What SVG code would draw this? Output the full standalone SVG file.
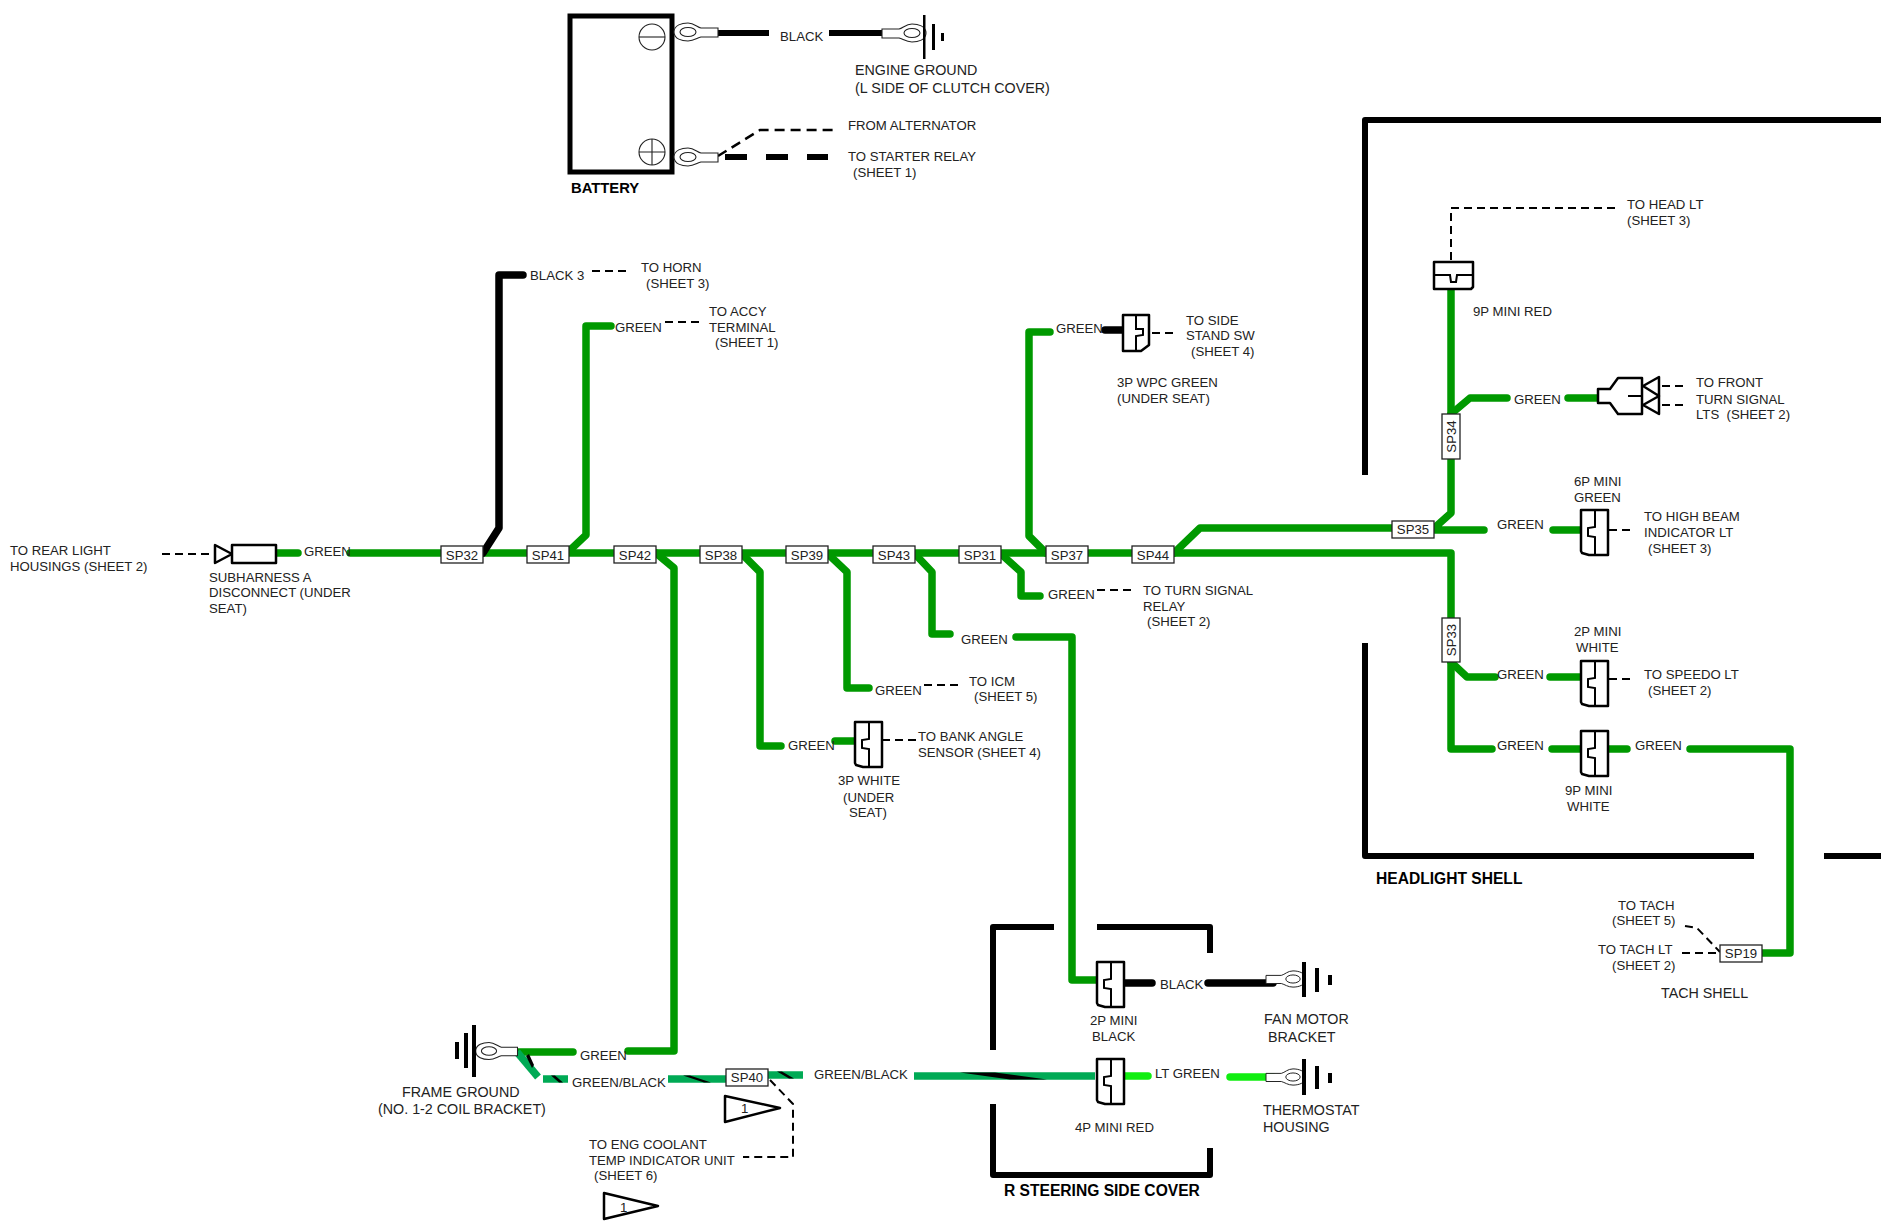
<svg xmlns="http://www.w3.org/2000/svg" xmlns:xlink="http://www.w3.org/1999/xlink" width="1881" height="1225" viewBox="0 0 1881 1225">
<style>
text{font-family:"Liberation Sans",Arial,sans-serif;font-size:13.200px;fill:#222}
.l{font-size:14.300px}
.b{font-size:15.600px;font-weight:bold;fill:#000}
.m{text-anchor:middle}
.w{fill:none;stroke-width:7.500;stroke-linecap:round;stroke-linejoin:round}
.g{stroke:#009900}
.k{stroke:#000}
.lg{stroke:#11ee11}
.gb{stroke:#00aa55;stroke-linecap:butt}
.d{fill:none;stroke:#000;stroke-width:2;stroke-dasharray:8 5}
.f{fill:none;stroke:#000;stroke-width:6;stroke-linejoin:round}
.o{fill:#fff;stroke:#000;stroke-width:2.500;stroke-linejoin:round}
.t{fill:#fff;stroke:#222;stroke-width:1.100}
.s{fill:#fff;stroke:#222;stroke-width:1.300}
.i{fill:none;stroke:#000;stroke-width:2}
</style>
<defs>
<g id="conn">
<path class="o" d="M0,0H27V45H8L1,43L0,41Z"/>
<path class="i" d="M14,0V17L7,18V26L14,27V45"/>
</g>
<g id="lug">
<path class="t" d="M-14,0C-14,-7 -6,-9 0,-9C6,-9 9,-5 13,-4H30V5H13C9,6 6,9 0,9C-6,9 -14,7 -14,0Z"/>
<ellipse class="t" rx="8" ry="4.500"/>
</g>
<rect id="sp" class="s" width="42" height="17"/>
</defs>
<g id="frames">
<path class="f" d="M1365,475V120H1881"/>
<path class="f" d="M1365,643V856H1754"/>
<path class="f" d="M1824,856H1881"/>
<path class="f" d="M993,1050V927H1054"/>
<path class="f" d="M1097,927H1210V953"/>
<path class="f" d="M993,1104V1175H1210V1148"/>
</g>
<g id="connectors">
<path class="w g" d="M273,553H298"/>
<path class="w g" d="M350,553H445"/>
<path class="w g" d="M483,553H527"/>
<path class="w g" d="M569,553H614"/>
<path class="w g" d="M656,553H700"/>
<path class="w g" d="M742,553H786"/>
<path class="w g" d="M828,553H873"/>
<path class="w g" d="M915,553H959"/>
<path class="w g" d="M1001,553H1046"/>
<path class="w g" d="M1088,553H1132"/>
<path class="w g" d="M1174,553H1451V620"/>
<path class="w k" d="M483,553L499,528V275H523"/>
<path class="w g" d="M567,553L586,535V326H611"/>
<path class="w g" d="M656,553L674,568V1051H628"/>
<path class="w g" d="M742,554L760,572V746H781"/>
<path class="w g" d="M828,554L847,572V688H869"/>
<path class="w g" d="M915,554L932,572V634H950"/>
<path class="w g" d="M1016,637H1072V980H1100"/>
<path class="w g" d="M1001,554L1021,572V596H1040"/>
<path class="w g" d="M1046,553L1029,536V332H1050"/>
<path class="w g" d="M1174,553L1200,528H1392"/>
<path class="w g" d="M1451,286V414"/>
<path class="w g" d="M1451,414L1470,398H1507"/>
<path class="w g" d="M1451,459V513L1432,530H1484"/>
<path class="w g" d="M1553,530H1585"/>
<path class="w g" d="M1568,398H1600"/>
<path class="w g" d="M1451,662L1467,677H1495"/>
<path class="w g" d="M1451,662V749H1492"/>
<path class="w g" d="M1550,677H1581"/>
<path class="w g" d="M1552,749H1584"/>
<path class="w g" d="M1607,749H1627"/>
<path class="w g" d="M1690,749H1790V953H1762"/>
<path class="w g" d="M835,741H856"/>
<path class="w k" d="M1105,330H1125"/>
<path class="w k" d="M1123,983H1152"/>
<path class="w k" d="M1208,983H1273"/>
<path class="w lg" d="M1122,1076H1148"/>
<path class="w lg" d="M1230,1077H1273"/>
<path class="w g" d="M517,1052H573"/>
<path class="w gb" d="M517,1052L538,1077"/>
<path class="w gb" d="M543,1079H568"/>
<path class="w gb" d="M668,1079H726"/>
<path class="w gb" d="M768,1075H803"/>
<path class="w gb" d="M914,1076H1095"/>
<path fill="#000" d="M960,1072.500H995L1047,1079.500H1010Z"/>
<path fill="#000" d="M526,1056L529,1054L534,1065L532,1068Z"/>
<path fill="#000" d="M551,1075.500H555L563,1082.500H559Z"/>
<path fill="#000" d="M683,1075.500H690L711,1082.500H704Z"/>
<path fill="#000" d="M777,1071.500H782L794,1078.500H789Z"/>
<path fill="none" stroke="#000" stroke-width="6" d="M717,33H769M829,33H882"/>
<path fill="none" stroke="#000" stroke-width="6" d="M725,157H747M766,157H788M807,157H828"/>
<path fill="none" stroke="#000" stroke-width="2.500" stroke-dasharray="10 6" d="M718,156L760,130H833"/>
<path class="d" d="M162,554H213"/>
<path class="d" d="M592,271H630"/>
<path class="d" d="M665,322H702"/>
<path class="d" d="M1152,333H1175"/>
<path class="d" d="M1097,590H1132"/>
<path class="d" d="M924,685H959"/>
<path class="d" d="M882,740H916"/>
<path class="d" d="M1451,260V208H1617"/>
<path class="d" d="M1662,386H1685"/>
<path class="d" d="M1662,405H1685"/>
<path class="d" d="M1609,530H1633"/>
<path class="d" d="M1609,679H1633"/>
<path class="d" d="M1685,926L1697,928L1720,952"/>
<path class="d" d="M1682,953H1720"/>
<path class="d" d="M770,1080L793,1104V1157H743"/>
</g>
<g id="battery">
<rect x="570" y="16" width="102" height="156" fill="none" stroke="#000" stroke-width="5"/>
<circle class="t" cx="652" cy="37" r="13"/><path class="t" d="M639,37H665"/>
<circle class="t" cx="652" cy="152" r="13"/><path class="t" d="M639,152H665M652,139V165"/>
<use xlink:href="#lug" href="#lug" transform="translate(688,32)"/>
<use xlink:href="#lug" href="#lug" transform="translate(688,157)"/>
<text x="571" y="193" class="b" style="font-size:14.800px">BATTERY</text>
</g>
<g id="engine-ground">
<use xlink:href="#lug" href="#lug" transform="translate(912,33) scale(-1,1)"/>
<path fill="#000" d="M923,15h2.500v44h-2.500zM932,24h3v26h-3zM941,33h3v8h-3z"/>
<text x="855" y="75" class="l">ENGINE GROUND</text>
<text x="855" y="93" class="l">(L SIDE OF CLUTCH COVER)</text>
</g>
<g id="subharness">
<path class="o" d="M215,545V563L232,554Z"/>
<rect class="o" x="232" y="545" width="44" height="18"/>
<text x="209" y="582">SUBHARNESS A</text><text x="209" y="597">DISCONNECT (UNDER</text><text x="209" y="613">SEAT)</text>
</g>
<g id="splices">
<g id="SP32"><use xlink:href="#sp" href="#sp" x="441" y="546"/><text x="462" y="560" class="m">SP32</text></g>
<g id="SP41"><use xlink:href="#sp" href="#sp" x="527" y="546"/><text x="548" y="560" class="m">SP41</text></g>
<g id="SP42"><use xlink:href="#sp" href="#sp" x="614" y="546"/><text x="635" y="560" class="m">SP42</text></g>
<g id="SP38"><use xlink:href="#sp" href="#sp" x="700" y="546"/><text x="721" y="560" class="m">SP38</text></g>
<g id="SP39"><use xlink:href="#sp" href="#sp" x="786" y="546"/><text x="807" y="560" class="m">SP39</text></g>
<g id="SP43"><use xlink:href="#sp" href="#sp" x="873" y="546"/><text x="894" y="560" class="m">SP43</text></g>
<g id="SP31"><use xlink:href="#sp" href="#sp" x="959" y="546"/><text x="980" y="560" class="m">SP31</text></g>
<g id="SP37"><use xlink:href="#sp" href="#sp" x="1046" y="546"/><text x="1067" y="560" class="m">SP37</text></g>
<g id="SP44"><use xlink:href="#sp" href="#sp" x="1132" y="546"/><text x="1153" y="560" class="m">SP44</text></g>
<g id="SP35"><use xlink:href="#sp" href="#sp" x="1392" y="521"/><text x="1413" y="534" class="m">SP35</text></g>
<g id="SP19"><use xlink:href="#sp" href="#sp" x="1720" y="945"/><text x="1741" y="958" class="m">SP19</text></g>
<g id="SP40"><use xlink:href="#sp" href="#sp" x="726" y="1069"/><text x="747" y="1082" class="m">SP40</text></g>
<g id="SP34"><rect class="s" x="1442" y="414" width="18" height="45"/><text class="m" transform="translate(1456,436.500) rotate(-90)">SP34</text></g>
<g id="SP33"><rect class="s" x="1442" y="618" width="18" height="44"/><text class="m" transform="translate(1456,640) rotate(-90)">SP33</text></g>
</g>
<g id="conn-9p-red">
<path class="o" d="M1434,262H1473V287L1471,289H1434Z"/>
<path class="i" d="M1434,275H1450L1451,282H1456L1457,275H1473"/>
</g>
<g id="conn-turn">
<path class="o" d="M1598,389H1610L1618,378H1642V414H1618L1610,403H1598Z"/>
<path class="i" d="M1628,396H1642"/>
<path class="o" d="M1659,377V396L1643,386Z"/>
<path class="o" d="M1659,396V414L1643,405Z"/>
</g>
<g id="conn-6p"><use xlink:href="#conn" href="#conn" x="1581" y="510"/></g>
<g id="conn-2p-white"><use xlink:href="#conn" href="#conn" x="1581" y="661"/></g>
<g id="conn-9p-white"><use xlink:href="#conn" href="#conn" x="1581" y="731"/></g>
<g id="conn-2p-black"><use xlink:href="#conn" href="#conn" x="1097" y="962"/></g>
<g id="conn-4p-red"><use xlink:href="#conn" href="#conn" x="1097" y="1059"/></g>
<g id="conn-3p-white"><use xlink:href="#conn" href="#conn" x="855" y="722"/></g>
<g id="conn-3p-wpc">
<path class="o" d="M1123,315H1149V345L1141,351H1123Z"/>
<path class="i" d="M1136,315V329H1143V335L1136,336V351"/>
</g>
<g id="fan-ground">
<use xlink:href="#lug" href="#lug" transform="translate(1293,979) scale(-.9,.9)"/>
<path fill="#000" d="M1302,962h4v35h-4zM1315,968h4v24h-4zM1328,975h4v10h-4z"/>
<text x="1264" y="1024" class="l">FAN MOTOR</text><text x="1268" y="1042" class="l">BRACKET</text>
</g>
<g id="thermostat-ground">
<use xlink:href="#lug" href="#lug" transform="translate(1293,1077) scale(-.9,.9)"/>
<path fill="#000" d="M1302,1059h4v36h-4zM1315,1066h4v23h-4zM1328,1073h4v10h-4z"/>
<text x="1263" y="1115" class="l">THERMOSTAT</text><text x="1263" y="1132" class="l">HOUSING</text>
</g>
<g id="frame-ground">
<use xlink:href="#lug" href="#lug" transform="translate(489,1051) scale(.95)"/>
<path fill="#000" d="M472,1025h4v52h-4zM464,1033h4v35h-4zM455,1042h4v17h-4z"/>
<text x="402" y="1097" class="l">FRAME GROUND</text><text x="378" y="1114" class="l">(NO. 1-2 COIL BRACKET)</text>
</g>
<g id="flags">
<path class="o" d="M725,1096L780,1108L725,1122Z" stroke-width="2"/><text x="741" y="1113">1</text>
<path class="o" d="M604,1193L658,1206L604,1219Z" stroke-width="2"/><text x="620" y="1212">1</text>
</g>
<g id="labels">
<text x="780" y="41">BLACK</text>
<text x="848" y="130">FROM ALTERNATOR</text>
<text x="848" y="161">TO STARTER RELAY</text><text x="853" y="177">(SHEET 1)</text>
<text x="10" y="555">TO REAR LIGHT</text><text x="10" y="571">HOUSINGS (SHEET 2)</text>
<text x="304" y="556">GREEN</text>
<text x="530" y="280">BLACK 3</text>
<text x="641" y="272">TO HORN</text><text x="646" y="288">(SHEET 3)</text>
<text x="615" y="332">GREEN</text>
<text x="709" y="316">TO ACCY</text><text x="709" y="332">TERMINAL</text><text x="715" y="347">(SHEET 1)</text>
<text x="1056" y="333">GREEN</text>
<text x="1186" y="325">TO SIDE</text><text x="1186" y="340">STAND SW</text><text x="1191" y="356">(SHEET 4)</text>
<text x="1117" y="387">3P WPC GREEN</text><text x="1117" y="403">(UNDER SEAT)</text>
<text x="1048" y="599">GREEN</text>
<text x="1143" y="595">TO TURN SIGNAL</text><text x="1143" y="611">RELAY</text><text x="1147" y="626">(SHEET 2)</text>
<text x="961" y="644">GREEN</text>
<text x="875" y="695">GREEN</text>
<text x="969" y="686">TO ICM</text><text x="974" y="701">(SHEET 5)</text>
<text x="788" y="750">GREEN</text>
<text x="918" y="741">TO BANK ANGLE</text><text x="918" y="757">SENSOR (SHEET 4)</text>
<text x="838" y="785">3P WHITE</text><text x="843" y="802">(UNDER</text><text x="849" y="817">SEAT)</text>
<text x="1627" y="209">TO HEAD LT</text><text x="1627" y="225">(SHEET 3)</text>
<text x="1473" y="316">9P MINI RED</text>
<text x="1514" y="404">GREEN</text>
<text x="1696" y="387">TO FRONT</text><text x="1696" y="404">TURN SIGNAL</text><text x="1696" y="419" xml:space="preserve">LTS  (SHEET 2)</text>
<text x="1574" y="486">6P MINI</text><text x="1574" y="502">GREEN</text>
<text x="1497" y="529">GREEN</text>
<text x="1644" y="521">TO HIGH BEAM</text><text x="1644" y="537">INDICATOR LT</text><text x="1648" y="553">(SHEET 3)</text>
<text x="1574" y="636">2P MINI</text><text x="1576" y="652">WHITE</text>
<text x="1497" y="679">GREEN</text>
<text x="1644" y="679">TO SPEEDO LT</text><text x="1648" y="695">(SHEET 2)</text>
<text x="1497" y="750">GREEN</text>
<text x="1635" y="750">GREEN</text>
<text x="1565" y="795">9P MINI</text><text x="1567" y="811">WHITE</text>
<text x="1376" y="884" class="b">HEADLIGHT SHELL</text>
<text x="1618" y="910">TO TACH</text><text x="1612" y="925">(SHEET 5)</text>
<text x="1598" y="954">TO TACH LT</text><text x="1612" y="970">(SHEET 2)</text>
<text x="1661" y="998" class="l">TACH SHELL</text>
<text x="1090" y="1025">2P MINI</text><text x="1092" y="1041">BLACK</text>
<text x="1160" y="989">BLACK</text>
<text x="1155" y="1078">LT GREEN</text>
<text x="1075" y="1132">4P MINI RED</text>
<text x="1004" y="1196" class="b">R STEERING SIDE COVER</text>
<text x="580" y="1060">GREEN</text>
<text x="572" y="1087">GREEN/BLACK</text>
<text x="814" y="1079">GREEN/BLACK</text>
<text x="589" y="1149">TO ENG COOLANT</text><text x="589" y="1165">TEMP INDICATOR UNIT</text><text x="594" y="1180">(SHEET 6)</text>
</g>
</svg>
